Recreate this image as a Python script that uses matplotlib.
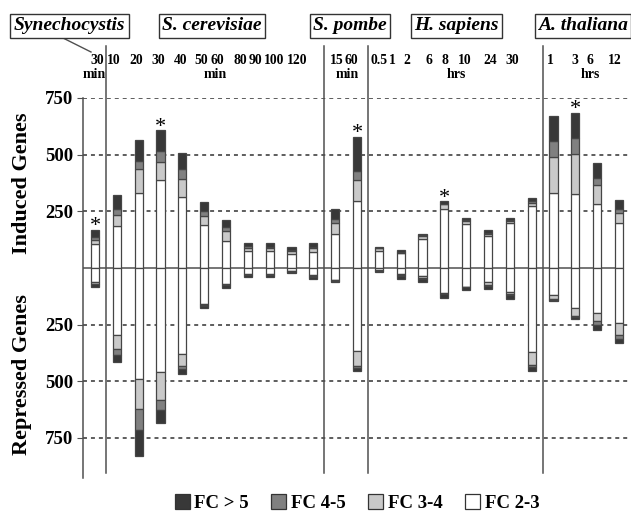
import matplotlib
matplotlib.use('Agg')
import matplotlib.pyplot as plt
import matplotlib.transforms as mtransforms
from matplotlib.patches import Patch
from matplotlib.lines import Line2D
import numpy as np

plt.rcParams['font.family'] = ['Liberation Serif', 'DejaVu Serif']
plt.rcParams['font.weight'] = 'bold'

# organisms and their time points
organisms = ['Synechocystis', 'S. cerevisiae', 'S. pombe', 'H. sapiens', 'A. thaliana']
group_sizes = [1, 10, 2, 8, 4]
units = ['min', 'min', 'min', 'hrs', 'hrs']
times = ['30', '10', '20', '30', '40', '50', '60', '80', '90', '100', '120',
         '15', '60', '0.5', '1', '2', '6', '8', '10', '24', '30',
         '1', '3', '6', '12']

# induced genes per fold-change class
ind_23 = [105, 184, 331, 387, 313, 188, 119, 74, 76, 60, 72, 152, 295,
          75, 66, 128, 262, 193, 141, 198, 274, 331, 328, 284, 200]
ind_34 = [20, 48, 104, 81, 78, 40, 44, 13, 12, 14, 14, 46, 95,
          12, 2, 14, 18, 15, 8, 10, 12, 159, 173, 81, 43]
ind_45 = [12, 27, 37, 48, 46, 23, 18, 9, 6, 5, 8, 18, 36,
          3, 1, 3, 4, 3, 4, 3, 8, 70, 72, 32, 19]
ind_5 = [30, 61, 91, 91, 70, 39, 32, 14, 16, 12, 14, 46, 152,
         3, 12, 4, 10, 10, 13, 10, 15, 110, 112, 66, 40]

# repressed genes per fold-change class
rep_23 = [62, 297, 488, 461, 378, 160, 70, 28, 26, 13, 33, 51, 366,
          10, 25, 35, 110, 82, 64, 106, 373, 121, 176, 197, 245]
rep_34 = [7, 59, 135, 121, 55, 4, 4, 3, 5, 2, 3, 4, 66,
          2, 7, 10, 3, 2, 13, 8, 56, 18, 36, 38, 52]
rep_45 = [3, 29, 93, 46, 15, 2, 2, 2, 2, 2, 2, 2, 8,
          1, 3, 4, 2, 2, 3, 4, 10, 2, 4, 15, 17]
rep_5 = [12, 32, 113, 56, 18, 10, 12, 9, 9, 7, 12, 6, 14,
         7, 12, 12, 17, 12, 11, 17, 15, 5, 10, 25, 19]

starred = [0, 3, 12, 16, 22]
yticks = [-750, -500, -250, 250, 500, 750]
classes = ['FC > 5', 'FC 4-5', 'FC 3-4', 'FC 2-3']

# layout (positions in bar-index units)
time_x = [0.08, 0.85, 1.88, 2.89, 3.92, 4.88, 5.6, 6.64, 7.34, 8.2, 9.28,
          11.06, 11.75, 13.0, 13.63, 14.27, 15.28, 16.03, 16.95, 18.1, 19.09,
          20.84, 21.99, 22.67, 23.82]
unit_x = [-0.05, 5.52, 11.54, 16.54, 22.67]
header_x = [-1.17, 5.36, 11.68, 16.56, 22.35]

colors = {'FC > 5': '#383838', 'FC 4-5': '#808080', 'FC 3-4': '#c9c9c9', 'FC 2-3': '#ffffff'}
edge = '#454545'
grey = '#505050'

fig = plt.figure(figsize=(6.31, 5.15), dpi=100)
ax = fig.add_axes([83 / 631, 37 / 515, 548 / 631, 380 / 515])

x = np.arange(len(times))
w = 0.38
up = [ind_23, ind_34, ind_45, ind_5]
down = [rep_23, rep_34, rep_45, rep_5]
names = ['FC 2-3', 'FC 3-4', 'FC 4-5', 'FC > 5']
bot_u = np.zeros(len(x))
bot_d = np.zeros(len(x))
for vals_u, vals_d, nm in zip(up, down, names):
    ax.bar(x, vals_u, w, bottom=bot_u, color=colors[nm], edgecolor=edge, linewidth=0.9, zorder=3)
    ax.bar(x, -np.array(vals_d), w, bottom=-bot_d, color=colors[nm], edgecolor=edge, linewidth=0.9, zorder=3)
    bot_u += np.array(vals_u)
    bot_d += np.array(vals_d)

for i in starred:
    ax.text(x[i], bot_u[i] - 28, '*', ha='center', va='bottom', fontsize=16, fontweight='normal', zorder=4)

ax.set_xlim(-0.55, 24.55)
ax.set_ylim(-927, 750)
for yv in yticks:
    ax.axhline(yv, color=grey, lw=1.3, ls=(0, (2.2, 2.2)), zorder=1)
ax.axhline(0, xmax=0.985, color=grey, lw=1.1, zorder=2)

for s in ['top', 'right', 'bottom']:
    ax.spines[s].set_visible(False)
ax.spines['left'].set_color(grey)
ax.spines['left'].set_linewidth(1.1)
ax.set_xticks([])
ax.set_yticks(yticks)
ax.set_yticklabels([str(abs(v)) for v in yticks], fontsize=13.5, fontweight='bold')
ax.tick_params(axis='y', length=4, color=grey, pad=3)

fig.text(22 / 631, 1 - 183 / 515, 'Induced Genes', rotation=90, ha='center', va='center',
         fontsize=16, fontweight='bold')
fig.text(22 / 631, 1 - 375 / 515, 'Repressed Genes', rotation=90, ha='center', va='center',
         fontsize=16, fontweight='bold')

trans = mtransforms.blended_transform_factory(ax.transData, fig.transFigure)

# group separators
bounds = np.cumsum(group_sizes)[:-1] - 0.5
for b in bounds:
    fig.add_artist(Line2D([b, b], [1 - 46 / 515, 1 - 473 / 515], transform=trans,
                          color=grey, lw=1.1, clip_on=False))

for tx, t in zip(time_x, times):
    fig.text(tx, 1 - 60 / 515, t, transform=trans, ha='center', va='center',
             fontsize=9.8, fontweight='bold')
for ux, u in zip(unit_x, units):
    fig.text(ux, 1 - 75 / 515, u, transform=trans, ha='center', va='center',
             fontsize=10, fontweight='bold')
for hx, org in zip(header_x, organisms):
    fig.text(hx, 1 - 25.5 / 515, org, transform=trans, ha='center', va='center',
             fontsize=14, fontweight='bold', fontstyle='italic',
             bbox=dict(boxstyle='square,pad=0.18', facecolor='white', edgecolor='#333333', lw=1))

fig.add_artist(Line2D([63 / 631, 91 / 631], [1 - 38 / 515, 1 - 52 / 515], transform=fig.transFigure,
                      color=grey, lw=1.0))

handles = [Patch(facecolor=colors[c], edgecolor='#333333', lw=0.9) for c in classes]
fig.legend(handles, classes, loc='center', bbox_to_anchor=(357 / 631, 1 - 503 / 515), ncol=4,
           frameon=False, prop={'size': 13.5, 'weight': 'bold'}, handlelength=0.8, handleheight=0.8,
           handletextpad=0.25, columnspacing=1.2)

fig.savefig('out.png', dpi=100)
